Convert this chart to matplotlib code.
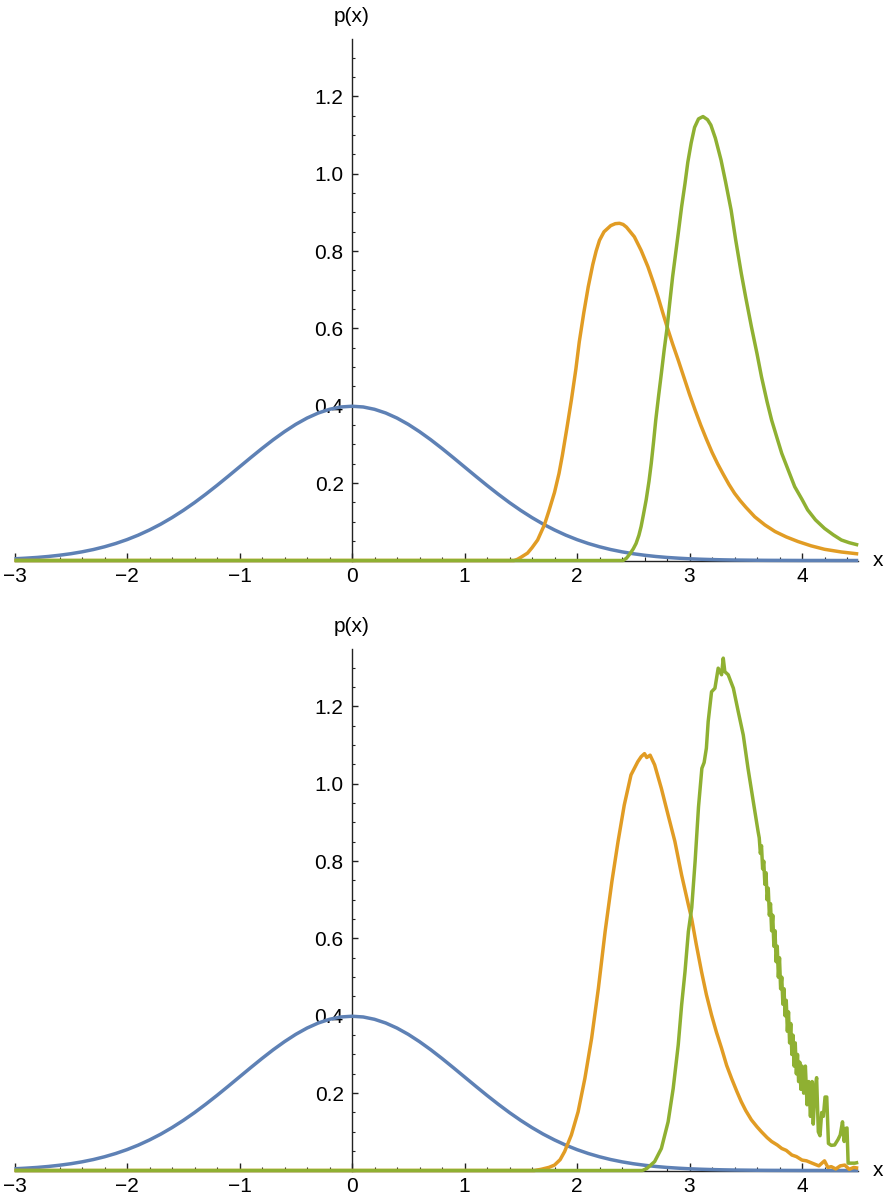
import numpy as np
import matplotlib
matplotlib.use("Agg")
import matplotlib.pyplot as plt
from matplotlib.ticker import MultipleLocator, FormatStrFormatter

plt.rcParams['font.family'] = ['Liberation Sans', 'DejaVu Sans']
plt.rcParams['axes.unicode_minus'] = True

# ---------------- data ----------------
blue_x = [round(-3.0 + 0.1 * i, 1) for i in range(76)]
blue_y = [0.0044, 0.0060, 0.0079, 0.0104, 0.0136, 0.0175, 0.0224, 0.0283, 0.0355, 0.0440,
          0.0540, 0.0656, 0.0790, 0.0940, 0.1109, 0.1295, 0.1497, 0.1714, 0.1942, 0.2179,
          0.2420, 0.2661, 0.2897, 0.3123, 0.3332, 0.3521, 0.3683, 0.3814, 0.3910, 0.3970,
          0.3989,
          0.3970, 0.3910, 0.3814, 0.3683, 0.3521, 0.3332, 0.3123, 0.2897, 0.2661, 0.2420,
          0.2179, 0.1942, 0.1714, 0.1497, 0.1295, 0.1109, 0.0940, 0.0790, 0.0656, 0.0540,
          0.0440, 0.0355, 0.0283, 0.0224, 0.0175, 0.0136, 0.0104, 0.0079, 0.0060, 0.0044,
          0.0033, 0.0024, 0.0017, 0.0012, 0.0009, 0.0006, 0.0004, 0.0003, 0.0002, 0.0001,
          0.0001, 0.0001, 0.0, 0.0, 0.0]

# top panel (exact densities)
orange_top_x = [-3.0, 1.44, 1.47, 1.50, 1.56, 1.60, 1.65, 1.71, 1.75, 1.80, 1.84, 1.87, 1.91,
                1.95, 1.99, 2.02, 2.06, 2.10, 2.14, 2.17, 2.20, 2.24, 2.30, 2.34, 2.377, 2.41,
                2.44, 2.51, 2.57, 2.63, 2.68, 2.72, 2.76, 2.80, 2.85, 2.90, 2.95, 3.00, 3.05,
                3.10, 3.15, 3.20, 3.25, 3.30, 3.35, 3.40, 3.45, 3.50, 3.58, 3.67, 3.76, 3.86,
                3.965, 4.08, 4.20, 4.35, 4.50]
orange_top_y = [0.0, 0.0, 0.003, 0.008, 0.019, 0.033, 0.053, 0.092, 0.128, 0.176, 0.225,
                0.272, 0.342, 0.415, 0.495, 0.565, 0.640, 0.708, 0.765, 0.800, 0.828, 0.850,
                0.866, 0.871, 0.872, 0.869, 0.862, 0.837, 0.802, 0.760, 0.718, 0.682, 0.643,
                0.605, 0.560, 0.518, 0.474, 0.430, 0.389, 0.350, 0.314, 0.280, 0.250, 0.223,
                0.197, 0.174, 0.155, 0.138, 0.113, 0.092, 0.075, 0.061, 0.049, 0.038, 0.029,
                0.022, 0.017]

green_top_x = [-3.0, 2.41, 2.44, 2.47, 2.50, 2.525, 2.55, 2.57, 2.59, 2.615, 2.64, 2.66, 2.68,
               2.70, 2.725, 2.75, 2.775, 2.80, 2.825, 2.85, 2.875, 2.90, 2.93, 2.96, 2.985,
               3.015, 3.045, 3.08, 3.12, 3.16, 3.19, 3.23, 3.28, 3.32, 3.37, 3.41, 3.46, 3.50,
               3.55, 3.60, 3.64, 3.69, 3.73, 3.78, 3.82, 3.88, 3.935, 4.00, 4.05, 4.12, 4.20,
               4.28, 4.35, 4.42, 4.50]
green_top_y = [0.0, 0.0, 0.006, 0.017, 0.030, 0.044, 0.065, 0.088, 0.118, 0.157, 0.205, 0.251,
               0.305, 0.363, 0.425, 0.484, 0.545, 0.600, 0.668, 0.734, 0.790, 0.846, 0.915,
               0.975, 1.030, 1.080, 1.120, 1.142, 1.148, 1.140, 1.126, 1.092, 1.036, 0.980,
               0.906, 0.830, 0.743, 0.680, 0.605, 0.535, 0.475, 0.410, 0.363, 0.315, 0.277,
               0.232, 0.191, 0.158, 0.131, 0.105, 0.083, 0.066, 0.053, 0.046, 0.040]

# bottom panel (sampled histograms)
orange_bot_x = [-3.0, 1.62, 1.68, 1.75, 1.80, 1.85, 1.89, 1.95, 2.01, 2.07, 2.13, 2.19, 2.25,
                2.31, 2.365, 2.42, 2.48, 2.54, 2.57, 2.60, 2.62, 2.65, 2.69, 2.75, 2.81, 2.87,
                2.93, 2.99, 3.02, 3.06, 3.107, 3.15, 3.196, 3.24, 3.285, 3.33, 3.374, 3.42,
                3.46, 3.50, 3.55, 3.60, 3.64, 3.69, 3.73, 3.78, 3.82, 3.86, 3.91, 3.95, 4.00,
                4.04, 4.09, 4.15, 4.20, 4.23, 4.26, 4.30, 4.34, 4.38, 4.42, 4.46, 4.50]
orange_bot_y = [0.0, 0.0, 0.003, 0.008, 0.014, 0.028, 0.049, 0.092, 0.152, 0.238, 0.342, 0.471,
                0.618, 0.747, 0.851, 0.945, 1.023, 1.057, 1.070, 1.078, 1.068, 1.074, 1.049,
                0.988, 0.919, 0.851, 0.764, 0.687, 0.650, 0.585, 0.514, 0.455, 0.402, 0.357,
                0.316, 0.272, 0.238, 0.205, 0.178, 0.155, 0.131, 0.113, 0.100, 0.085, 0.075,
                0.066, 0.057, 0.052, 0.040, 0.036, 0.027, 0.025, 0.019, 0.012, 0.025, 0.008,
                0.010, 0.004, 0.012, 0.014, 0.003, 0.008, 0.006]

green_bot_x = [-3.0, 2.58, 2.62, 2.69, 2.75, 2.81, 2.855, 2.90, 2.93, 2.96, 2.99, 3.02, 3.05,
               3.08, 3.11, 3.13, 3.15, 3.166, 3.196, 3.226, 3.255, 3.285, 3.30, 3.314, 3.344,
               3.39, 3.433, 3.478, 3.52, 3.567, 3.61,
               3.62, 3.63, 3.64, 3.65, 3.66, 3.67, 3.68, 3.69, 3.70, 3.71, 3.72, 3.73, 3.74,
               3.75, 3.76, 3.77, 3.78, 3.79, 3.80, 3.81, 3.82, 3.83, 3.84, 3.85, 3.86, 3.87,
               3.88, 3.89, 3.90, 3.91, 3.92, 3.93, 3.94, 3.95, 3.96, 3.97, 3.98, 3.99, 4.00,
               4.015, 4.03, 4.045, 4.06, 4.075, 4.09,
               4.10, 4.115, 4.13, 4.145, 4.16, 4.175, 4.19, 4.205, 4.22, 4.235, 4.26, 4.29,
               4.32, 4.34, 4.36, 4.375, 4.39, 4.40, 4.41, 4.47, 4.50]
green_bot_y = [0.0, 0.0, 0.005, 0.023, 0.057, 0.126, 0.212, 0.325, 0.428, 0.514, 0.618, 0.680,
               0.800, 0.940, 1.040, 1.055, 1.092, 1.161, 1.238, 1.247, 1.299, 1.282, 1.325,
               1.290, 1.282, 1.247, 1.187, 1.126, 1.040, 0.954, 0.876,
               0.86, 0.82, 0.84, 0.78, 0.80, 0.74, 0.77, 0.70, 0.73, 0.66, 0.69, 0.62, 0.66,
               0.58, 0.62, 0.54, 0.58, 0.50, 0.55, 0.47, 0.50, 0.43, 0.47, 0.40, 0.44, 0.36,
               0.41, 0.33, 0.38, 0.30, 0.35, 0.27, 0.33, 0.25, 0.30, 0.23, 0.28, 0.21, 0.27,
               0.20, 0.27, 0.17, 0.23, 0.14, 0.23,
               0.12, 0.21, 0.24, 0.10, 0.09, 0.15, 0.14, 0.19, 0.19, 0.07, 0.065, 0.066,
               0.08, 0.092, 0.126, 0.075, 0.109, 0.11, 0.019, 0.019, 0.021]

x_major = [-3, -2, -1, 0, 1, 2, 3, 4]
y_major = [0.2, 0.4, 0.6, 0.8, 1.0, 1.2]

BLUE = '#5E81B5'
ORANGE = '#E19C24'
GREEN = '#8FB032'

W, H = 890, 1199
fig = plt.figure(figsize=(W / 100, H / 100), dpi=100)

xpix0 = 352.0      # pixel of x = 0
xscale = 112.5     # px per unit
yscale = 386.7     # px per unit
XMIN, XMAX = -3.0, 4.5
YMAX = 1.348


def make_axes(zero_pix):
    left = (xpix0 + XMIN * xscale) / W
    width = (XMAX - XMIN) * xscale / W
    bottom = (H - zero_pix) / H
    height = YMAX * yscale / H
    return fig.add_axes([left, bottom, width, height])


def style(ax):
    ax.set_xlim(XMIN, XMAX)
    ax.set_ylim(0, YMAX)
    for s in ['top', 'right']:
        ax.spines[s].set_visible(False)
    ax.spines['left'].set_position(('data', 0))
    ax.spines['bottom'].set_position(('data', 0))
    for s in ['left', 'bottom']:
        ax.spines[s].set_color('#222222')
        ax.spines[s].set_linewidth(1.0)
    ax.set_xticks(x_major)
    ax.set_xticklabels([('\u2212' + str(-v)) if v < 0 else str(v) for v in x_major])
    ax.xaxis.set_minor_locator(MultipleLocator(0.2))
    ax.set_yticks(y_major)
    ax.yaxis.set_major_formatter(FormatStrFormatter('%.1f'))
    ax.yaxis.set_minor_locator(MultipleLocator(0.05))
    ax.tick_params(axis='both', which='both', direction='in', color='#222222')
    ax.tick_params(axis='x', which='major', length=5.5, width=1.0, pad=5, labelsize=15)
    ax.tick_params(axis='x', which='minor', length=3, width=0.8)
    ax.tick_params(axis='y', which='major', length=4, width=1.0, pad=6, labelsize=15)
    ax.tick_params(axis='y', which='minor', length=2.5, width=0.8)
    ax.patch.set_alpha(0)
    ax.text(0, YMAX + 0.035, 'p(x)', ha='center', va='bottom', fontsize=15,
            transform=ax.transData, clip_on=False)
    ax.text(XMAX + 0.18, 0, 'x', ha='center', va='center', fontsize=15,
            transform=ax.transData, clip_on=False)


def draw(ax, curves):
    for xs, ys, c in curves:
        ax.plot(xs, ys, color=c, lw=2.5, solid_joinstyle='round',
                solid_capstyle='butt', clip_on=False, zorder=3)


ax1 = make_axes(560.5)
style(ax1)
draw(ax1, [(blue_x, blue_y, BLUE),
           (orange_top_x, orange_top_y, ORANGE),
           (green_top_x, green_top_y, GREEN)])

ax2 = make_axes(1170.5)
style(ax2)
draw(ax2, [(blue_x, blue_y, BLUE),
           (orange_bot_x, orange_bot_y, ORANGE),
           (green_bot_x, green_bot_y, GREEN)])

fig.savefig('out.png', dpi=100)
